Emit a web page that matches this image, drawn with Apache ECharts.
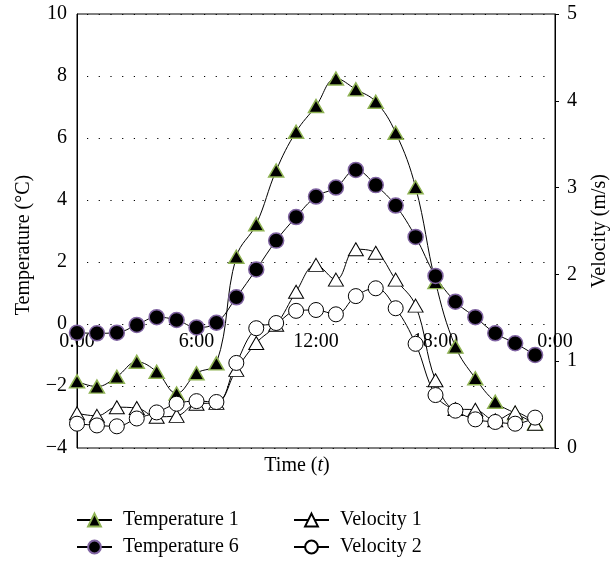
<!DOCTYPE html>
<html><head><meta charset="utf-8">
<script src="https://cdn.jsdelivr.net/npm/echarts@6/dist/echarts.min.js"></script>
<style>html,body{margin:0;padding:0;background:#fff}#c{width:612px;height:561px}</style>
</head><body><div id="c"></div><script>
const hours = [0,1,2,3,4,5,6,7,8,9,10,11,12,13,14,15,16,17,18,19,20,21,22,23];
const temperature1 = [-1.85,-2.02,-1.70,-1.22,-1.54,-2.24,-1.59,-1.27,2.17,3.22,4.95,6.20,7.03,7.92,7.57,7.17,6.17,4.41,1.35,-0.73,-1.75,-2.51,-2.88,-3.20];
const temperature6 = [-0.28,-0.30,-0.28,-0.03,0.22,0.13,-0.11,0.04,0.86,1.76,2.69,3.45,4.11,4.40,4.97,4.48,3.82,2.81,1.55,0.72,0.22,-0.30,-0.62,-1.00];
const velocity1 = [0.40,0.37,0.47,0.46,0.36,0.37,0.51,0.52,0.90,1.21,1.42,1.80,2.11,1.94,2.29,2.25,1.94,1.64,0.78,0.45,0.44,0.32,0.41,0.28];
const velocity2 = [0.28,0.26,0.25,0.34,0.41,0.51,0.54,0.53,0.98,1.38,1.44,1.58,1.59,1.54,1.75,1.84,1.61,1.20,0.61,0.43,0.33,0.30,0.28,0.35];
const xTickLabels = {0:'0:00',6:'6:00',12:'12:00',18:'18:00',24:'0:00'};
const seriesNames = ['Temperature 1','Temperature 6','Velocity 1','Velocity 2'];

const FONT = 'Liberation Serif';
const pairs = v => hours.map((h,i) => [h, v[i]]);
const txt = {fontFamily: FONT, fontSize: 20, color: '#000'};

const chart = echarts.init(document.getElementById('c'), null, {renderer: 'canvas'});
chart.setOption({
  animation: false,
  grid: {left: 77, right: 57, top: 14, bottom: 113, show: true, borderColor: '#000', borderWidth: 1, backgroundColor: 'transparent'},
  xAxis: {
    type: 'value', min: 0, max: 24, interval: 6, position: 'bottom', offset: -124,
    axisLine: {show: false, onZero: false},
    axisTick: {show: false},
    splitLine: {show: false},
    axisLabel: Object.assign({margin: 8, showMinLabel: true, showMaxLabel: true, formatter: v => xTickLabels[v]}, txt)
  },
  yAxis: [
    {type: 'value', min: -4, max: 10, interval: 2,
     axisLine: {show: true, onZero: false, lineStyle: {color: '#000'}},
     axisTick: {show: false},
     axisLabel: Object.assign({margin: 10, formatter: v => v < 0 ? '\u2212' + Math.abs(v) : String(v)}, txt),
     splitLine: {show: true, lineStyle: {color: '#000', width: 1, type: [1.2, 10.5], dashOffset: -10}}},
    {type: 'value', min: 0, max: 5, interval: 1, position: 'right',
     axisLine: {show: true, onZero: false, lineStyle: {color: '#000'}},
     axisTick: {show: true, inside: false, length: 4, lineStyle: {color: '#000'}},
     axisLabel: Object.assign({margin: 12}, txt),
     splitLine: {show: false}}
  ],
  legend: [
    {data: [seriesNames[0], seriesNames[1]], orient: 'vertical', left: 76, top: 510, padding: 0, height: 51, itemWidth: 35, itemHeight: 16, itemGap: 7,
     textStyle: Object.assign({lineHeight: 20, padding: [0,0,0,6]}, txt)},
    {data: [seriesNames[2], seriesNames[3]], orient: 'vertical', left: 293, top: 510, padding: 0, height: 51, itemWidth: 35, itemHeight: 16, itemGap: 7,
     textStyle: Object.assign({lineHeight: 20, padding: [0,0,0,6]}, txt)}
  ],
  graphic: [
    {type: 'text', x: 297, y: 466, style: {text: 'Time ({i|t})', x: 0, y: 0, align: 'center', verticalAlign: 'middle', font: '20px "Liberation Serif"', fill: '#000',
      rich: {i: {fontStyle: 'italic', fontFamily: FONT, fontSize: 20}}}},
    {type: 'text', x: 24, y: 245, rotation: Math.PI/2, style: {text: 'Temperature (°C)', x: 0, y: 0, align: 'center', verticalAlign: 'middle', font: '20px "Liberation Serif"', fill: '#000'}},
    {type: 'text', x: 600, y: 231, rotation: Math.PI/2, style: {text: 'Velocity (m/s)', x: 0, y: 0, align: 'center', verticalAlign: 'middle', font: '20px "Liberation Serif"', fill: '#000'}}
  ],
  series: [
    {name: seriesNames[0], type: 'line', yAxisIndex: 0, data: pairs(temperature1), smooth: 0.4,
     symbol: 'triangle', symbolSize: [15, 13], lineStyle: {color: '#000', width: 1},
     itemStyle: {color: '#000', borderColor: '#8fb353', borderWidth: 1.5}, emphasis: {disabled: true}},
    {name: seriesNames[1], type: 'line', yAxisIndex: 0, data: pairs(temperature6), smooth: 0.4,
     symbol: 'circle', symbolSize: 15, lineStyle: {color: '#000', width: 1},
     itemStyle: {color: '#000', borderColor: '#8064a2', borderWidth: 1.5}, emphasis: {disabled: true}},
    {name: seriesNames[2], type: 'line', yAxisIndex: 1, data: pairs(velocity1), smooth: 0.4,
     symbol: 'triangle', symbolSize: [15, 13], lineStyle: {color: '#000', width: 1},
     itemStyle: {color: '#fff', borderColor: '#000', borderWidth: 1}, emphasis: {disabled: true}},
    {name: seriesNames[3], type: 'line', yAxisIndex: 1, data: pairs(velocity2), smooth: 0.4,
     symbol: 'circle', symbolSize: 15, lineStyle: {color: '#000', width: 1},
     itemStyle: {color: '#fff', borderColor: '#000', borderWidth: 1}, emphasis: {disabled: true}}
  ]
});
</script></body></html>
